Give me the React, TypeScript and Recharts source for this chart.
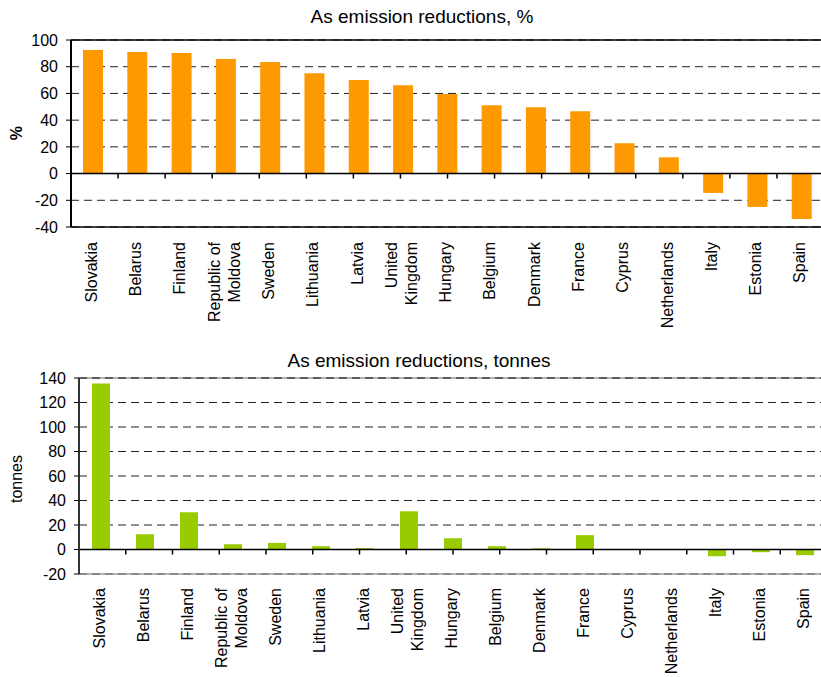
import React from 'react';
import { Bar, BarChart, CartesianGrid, ReferenceLine, XAxis, YAxis } from 'recharts';

const countries = [
  'Slovakia', 'Belarus', 'Finland', 'Republic of Moldova', 'Sweden', 'Lithuania', 'Latvia',
  'United Kingdom', 'Hungary', 'Belgium', 'Denmark', 'France', 'Cyprus', 'Netherlands',
  'Italy', 'Estonia', 'Spain',
];

// reductions as share of emissions, %
const percentReduction = [92.5, 91, 90.2, 85.7, 83.5, 75.2, 70, 66.2, 59.5, 51.2, 49.7, 46.7, 22.7, 12.2, -14.5, -25, -34];
// reductions in absolute terms, tonnes
const tonnesReduction = [135.6, 12.5, 30.4, 4.3, 5.4, 2.7, 1.1, 31.2, 9.2, 2.7, 1.0, 11.7, 0, 0, -5.5, -2.2, -4.6];

const percentTicks = [-40, -20, 0, 20, 40, 60, 80, 100];
const tonnesTicks = [-20, 0, 20, 40, 60, 80, 100, 120, 140];

const FONT = '"Liberation Sans", Arial, sans-serif';

// long names wrap onto two lines at the last space
const splitLabel = (name: string) => {
  if (name.length > 12 && name.includes(' ')) {
    const i = name.lastIndexOf(' ');
    return [name.slice(0, i), name.slice(i + 1)];
  }
  return [name];
};

const CountryTick = ({ x, y, payload }: any) => {
  const lines = splitLabel(String(payload.value));
  const lineStep = 20;
  return (
    <g transform={`translate(${x},${y})`}>
      {lines.map((line, i) => (
        <text
          key={i}
          transform="rotate(-90)"
          x={0}
          y={(i - (lines.length - 1) / 2) * lineStep - 2}
          dy="0.35em"
          textAnchor="end"
          fontSize={16}
          fontFamily={FONT}
          fill="#000"
        >
          {line}
        </text>
      ))}
    </g>
  );
};

interface PanelProps {
  values: number[];
  ticks: number[];
  color: string;
  barSize: number;
  height: number;
  top: number;
  margin: { top: number; right: number; left: number; bottom: number };
  yAxisWidth: number;
  xAxisHeight: number;
  labelGap: number;
  tickDepth: number;
  softFrame: boolean;
}

const Panel = ({ values, ticks, color, barSize, height, top, margin, yAxisWidth, xAxisHeight, labelGap, tickDepth, softFrame }: PanelProps) => {
  const data = countries.map((country, i) => ({ country, value: values[i] }));
  const lo = ticks[0];
  const hi = ticks[ticks.length - 1];
  const boundaries = countries.slice(1).map((_, i) => i + 1);
  const frameColor = softFrame ? '#9a9a9a' : '#000';

  return (
    <div style={{ position: 'absolute', left: 0, top }}>
      <BarChart width={830} height={height} data={data} margin={margin} barCategoryGap={0}>
        <CartesianGrid vertical={false} stroke="#222" strokeDasharray="8 5" />
        <XAxis
          dataKey="country"
          interval={0}
          height={xAxisHeight}
          tickLine={false}
          tickSize={0}
          tickMargin={labelGap}
          axisLine={{ stroke: frameColor, strokeWidth: 1.5 }}
          tick={<CountryTick />}
        />
        <XAxis xAxisId="edge" type="number" domain={[0, countries.length]} hide />
        <YAxis
          type="number"
          domain={[lo, hi]}
          ticks={ticks}
          interval={0}
          width={yAxisWidth}
          axisLine={{ stroke: softFrame ? '#333' : '#000', strokeWidth: 2 }}
          tickLine={{ stroke: '#000' }}
          tickSize={5}
          tickMargin={8}
          tick={{ fill: '#000', fontSize: 16, fontFamily: FONT }}
        />
        <ReferenceLine y={hi} stroke={frameColor} strokeWidth={1.5} />
        {softFrame && <ReferenceLine y={hi} stroke="#222" strokeDasharray="8 5" />}
        {softFrame && <ReferenceLine y={lo} stroke="#222" strokeDasharray="8 5" />}
        <Bar dataKey="value" fill={color} barSize={barSize} isAnimationActive={false} />
        <ReferenceLine y={0} stroke="#000" strokeWidth={1.5} />
        {boundaries.map((b) => (
          <ReferenceLine
            key={b}
            xAxisId="edge"
            segment={[{ x: b, y: 0 }, { x: b, y: -tickDepth }]}
            stroke="#000"
            strokeWidth={1.5}
          />
        ))}
      </BarChart>
    </div>
  );
};

const Title = ({ text, cx, top }: { text: string; cx: number; top: number }) => (
  <div
    style={{
      position: 'absolute', left: cx - 200, top, width: 400, textAlign: 'center',
      fontFamily: FONT, fontSize: 19, lineHeight: '19px', color: '#000', whiteSpace: 'nowrap',
    }}
  >
    {text}
  </div>
);

const AxisTitle = ({ text, cx, cy, bold }: { text: string; cx: number; cy: number; bold?: boolean }) => (
  <div
    style={{
      position: 'absolute', left: cx - 50, top: cy - 10, width: 100, height: 20, lineHeight: '20px',
      textAlign: 'center', transform: 'rotate(-90deg)', fontFamily: FONT, fontSize: 16,
      fontWeight: bold ? 'bold' : 'normal', color: '#000',
    }}
  >
    {text}
  </div>
);

export default function App() {
  return (
    <div style={{ position: 'absolute', left: 0, top: 0, width: 821, height: 677, overflow: 'hidden', background: '#fff' }}>
      <Panel
        values={percentReduction}
        ticks={percentTicks}
        color="#FF9900"
        barSize={20}
        height={340}
        top={0}
        margin={{ top: 40, right: 6, left: 0, bottom: 0 }}
        yAxisWidth={71}
        xAxisHeight={113}
        labelGap={15}
        tickDepth={3.75}
        softFrame={false}
      />
      <Panel
        values={tonnesReduction}
        ticks={tonnesTicks}
        color="#99CC00"
        barSize={18}
        height={337}
        top={340}
        margin={{ top: 38, right: 3, left: 0, bottom: 0 }}
        yAxisWidth={79}
        xAxisHeight={103}
        labelGap={14}
        tickDepth={4.1}
        softFrame={true}
      />
      <Title text="As emission reductions, %" cx={422} top={7} />
      <Title text="As emission reductions, tonnes" cx={419} top={351} />
      <AxisTitle text="%" cx={17} cy={133} bold />
      <AxisTitle text="tonnes" cx={17} cy={479} />
    </div>
  );
}
